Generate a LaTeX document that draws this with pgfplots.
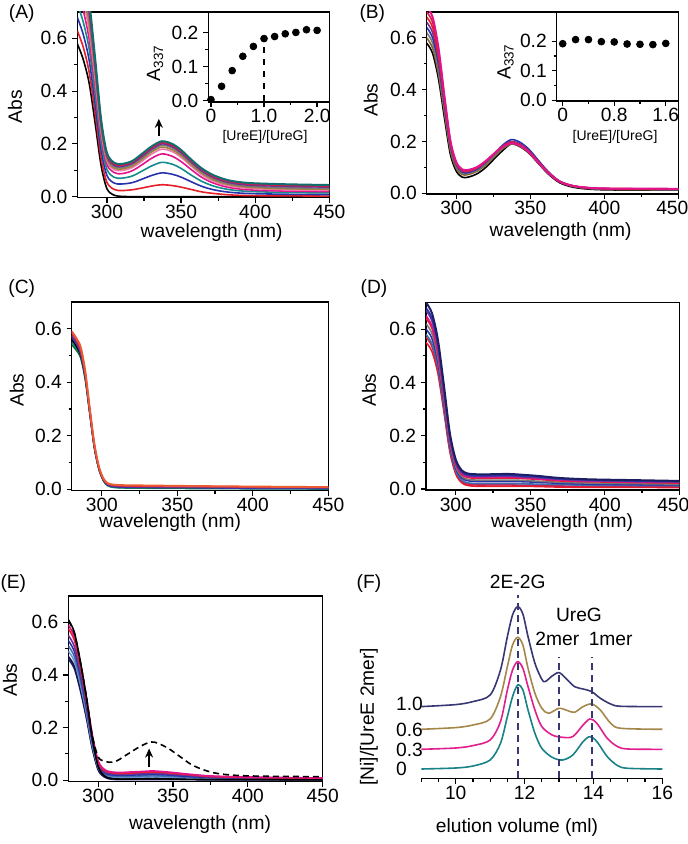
\documentclass[border=0pt]{standalone}
\usepackage{fontspec}
\setmainfont{Liberation Sans}
\usepackage{pgfplots}
\pgfplotsset{compat=1.18}
\usepackage{pgfplotstable}
\usetikzlibrary{arrows.meta}

\definecolor{cRed}{RGB}{230,30,40}
\definecolor{cBlue}{RGB}{40,50,170}
\definecolor{cTeal}{RGB}{20,140,140}
\definecolor{cMag}{RGB}{225,20,140}
\definecolor{cPink}{RGB}{240,120,170}
\definecolor{cOlive}{RGB}{160,130,60}
\definecolor{cGray}{RGB}{120,120,120}
\definecolor{cPurple}{RGB}{110,50,150}
\definecolor{cCrim}{RGB}{215,25,70}
\definecolor{cDTeal}{RGB}{15,110,110}
\definecolor{cNavy}{RGB}{30,30,100}
\definecolor{cSteel}{RGB}{70,110,170}
\definecolor{cLBlue}{RGB}{110,150,210}
\definecolor{cOrange}{RGB}{235,90,50}
\definecolor{cGreen}{RGB}{20,120,60}
\definecolor{cBrown}{RGB}{130,100,50}
\definecolor{fNavy}{RGB}{55,55,115}
\definecolor{fOlive}{RGB}{165,135,75}
\definecolor{fMag}{RGB}{225,30,140}
\definecolor{fTeal}{RGB}{25,130,135}

% (A) titration spectra
\pgfplotstableread{
x   k0   k1   k2   k3   k4   k5   k6   k7   k8   k9   k10
280 .580 .629 .680 .730 .775 .815 .849 .884 .905 .933 .955
284 .520 .567 .615 .662 .705 .741 .773 .804 .825 .849 .869
288 .430 .472 .517 .560 .598 .630 .657 .684 .701 .724 .741
292 .280 .316 .354 .389 .421 .446 .466 .485 .497 .514 .526
296 .120 .148 .179 .207 .230 .247 .259 .271 .279 .288 .296
300 .030 .054 .080 .103 .122 .135 .142 .149 .155 .160 .166
305 .005 .027 .051 .073 .091 .102 .108 .114 .118 .123 .128
310 .001 .023 .048 .070 .087 .099 .105 .110 .115 .119 .124
317 0 .026 .053 .078 .098 .110 .116 .122 .126 .131 .135
324 0 .033 .067 .098 .122 .136 .143 .149 .154 .159 .164
330 0 .040 .080 .116 .145 .161 .169 .175 .180 .185 .190
337 0 .045 .090 .130 .162 .180 .188 .195 .200 .205 .210
344 0 .042 .085 .123 .153 .171 .178 .185 .190 .195 .200
350 0 .036 .074 .107 .133 .149 .156 .162 .167 .172 .177
357 0 .027 .056 .081 .102 .115 .121 .127 .131 .136 .140
364 0 .018 .039 .058 .073 .083 .089 .094 .098 .103 .107
372 0 .012 .026 .040 .051 .058 .063 .068 .072 .076 .081
382 0 .007 .017 .027 .035 .041 .046 .050 .054 .058 .062
395 0 .004 .012 .020 .026 .032 .036 .040 .044 .048 .052
420 0 .003 .009 .016 .021 .026 .030 .034 .039 .043 .047
450 0 .002 .008 .014 .019 .024 .028 .032 .036 .040 .044
}\tA

% (B)
\pgfplotstableread{
x   bk   br   gy   bl   pu   rd   cr   pk
280 .58 .60 .62 .64 .66 .68 .70 .72
284 .54 .56 .58 .60 .62 .64 .66 .68
288 .44 .46 .48 .50 .51 .53 .55 .56
292 .29 .31 .33 .34 .35 .36 .37 .375
296 .15 .165 .178 .185 .19 .195 .20 .203
300 .085 .095 .104 .11 .112 .115 .118 .12
304 .062 .072 .078 .082 .085 .088 .090 .092
308 .062 .072 .077 .080 .083 .086 .088 .090
314 .075 .085 .09 .093 .095 .098 .100 .101
320 .10 .11 .115 .12 .121 .123 .124 .125
326 .135 .143 .148 .155 .153 .155 .155 .155
331 .163 .170 .175 .184 .180 .180 .179 .178
337 .190 .190 .195 .207 .200 .197 .195 .193
343 .180 .181 .186 .197 .190 .187 .185 .184
349 .155 .157 .160 .170 .164 .162 .160 .159
355 .118 .120 .122 .130 .126 .124 .122 .121
362 .075 .078 .079 .084 .082 .081 .080 .079
370 .040 .043 .044 .046 .045 .045 .045 .044
380 .022 .025 .026 .027 .027 .027 .027 .027
395 .014 .016 .017 .018 .018 .019 .019 .019
420 .012 .014 .015 .016 .016 .017 .017 .018
450 .012 .013 .014 .015 .015 .016 .016 .017
}\tB

% (C)
\pgfplotstableread{
x   te   gr   bk   bl   pu   rd   or
280 .55 .54 .56 .57 .575 .585 .59
283 .525 .52 .535 .545 .55 .56 .565
286 .495 .49 .50 .505 .51 .52 .53
289 .413 .41 .42 .42 .425 .43 .44
292 .285 .283 .29 .287 .29 .295 .30
295 .158 .157 .16 .16 .162 .165 .17
298 .077 .076 .08 .078 .08 .082 .085
301 .032 .033 .036 .034 .036 .038 .04
304 .013 .014 .018 .016 .018 .02 .022
308 .007 .008 .013 .010 .012 .015 .017
315 .005 .006 .011 .008 .010 .013 .015
330 .004 .005 .010 .007 .009 .012 .014
360 .003 .004 .009 .006 .008 .011 .012
400 .002 .003 .008 .004 .006 .009 .010
450 .001 .002 .007 .003 .005 .008 .008
}\tC

% (D)
\pgfplotstableread{
x   d1   d2   d3   d4   d5   d6   d7   d8   d9   d10
280 .550 .570 .580 .600 .620 .640 .650 .670 .680 .700
284 .516 .535 .545 .565 .584 .603 .612 .631 .641 .660
288 .433 .449 .458 .476 .493 .510 .518 .535 .543 .560
292 .290 .303 .311 .325 .338 .352 .358 .371 .377 .390
296 .140 .148 .155 .165 .174 .184 .189 .197 .201 .210
300 .056 .062 .068 .077 .083 .091 .095 .100 .104 .110
304 .023 .028 .033 .041 .047 .054 .057 .062 .065 .070
308 .013 .018 .023 .031 .036 .043 .046 .050 .053 .058
314 .010 .015 .020 .028 .033 .040 .043 .047 .050 .055
322 .010 .015 .020 .028 .033 .040 .043 .047 .050 .055
330 .010 .015 .020 .028 .033 .041 .044 .048 .051 .056
337 .010 .015 .020 .028 .033 .041 .044 .048 .051 .056
345 .010 .014 .019 .027 .032 .039 .042 .045 .048 .053
355 .009 .013 .018 .025 .029 .036 .038 .042 .045 .049
370 .007 .011 .016 .021 .025 .030 .033 .036 .038 .041
390 .006 .010 .014 .018 .022 .027 .029 .031 .034 .036
420 .006 .009 .013 .016 .020 .024 .026 .028 .030 .033
450 .005 .008 .012 .015 .018 .022 .024 .026 .028 .030
}\tD

% (E)
\pgfplotstableread{
x   e1   e2   e3   e4   e5   e6   e7   e8   e9
280 .460 .470 .490 .510 .530 .550 .575 .590 .610
284 .425 .434 .453 .471 .490 .509 .533 .546 .563
288 .342 .350 .366 .382 .398 .413 .433 .445 .453
292 .239 .246 .258 .271 .283 .295 .310 .319 .318
296 .121 .126 .134 .142 .150 .159 .168 .174 .161
300 .038 .042 .047 .053 .058 .063 .069 .073 .051
304 .012 .016 .020 .024 .029 .033 .037 .041 .017
308 .004 .008 .013 .017 .021 .025 .029 .032 .007
314 .002 .006 .010 .014 .018 .022 .026 .029 .004
322 .002 .006 .011 .015 .019 .023 .027 .031 .004
330 .002 .007 .012 .016 .021 .025 .030 .033 .005
336 .002 .007 .012 .017 .022 .026 .031 .035 .005
342 .002 .007 .012 .016 .021 .025 .030 .033 .005
350 .002 .006 .010 .014 .018 .022 .026 .029 .004
360 .002 .005 .008 .011 .014 .018 .021 .023 .003
375 .001 .003 .006 .008 .010 .012 .014 .016 .002
400 .001 .002 .004 .006 .007 .009 .010 .012 .002
450 .001 .002 .003 .004 .005 .006 .007 .008 .001
}\tE

\newcommand{\tfont}{\fontsize{9.6}{10}\selectfont}
\newcommand{\lab}{\fontsize{9.6}{11}\selectfont}

\pgfplotsset{
  base/.style={
    scale only axis, anchor=south west,
    tick align=outside, tick pos=left,
    major tick length=2.6pt, minor tick length=1.6pt,
    axis line style={line width=0.6pt},
    every tick/.style={line width=0.6pt, black},
    tick label style={font=\tfont},
    xticklabel style={inner sep=1pt},
    yticklabel style={inner sep=2.2pt},
  },
  spec/.style={
    base,
    xmin=280, xmax=450, ymax=0.7,
    xtick={300,350,400,450}, xticklabels={300,350,400,450},
    minor x tick num=1,
    ytick={0,0.2,0.4,0.6}, yticklabels={0.0,0.2,0.4,0.6},
    minor y tick num=1,
    every axis plot/.append style={line width=0.8pt, smooth, tension=0.5, no marks},
  },
  inset/.style={
    base,
    axis background/.style={fill=white},
    ytick={0,0.1,0.2}, yticklabels={0.0,0.1,0.2},
    minor y tick num=1, minor x tick num=1,
  },
}

\begin{document}
\begin{tikzpicture}
\path[use as bounding box] (0,0) rectangle (344pt,422pt);

% ---------- (A)
\begin{axis}[spec, at={(38.65pt,323.15pt)}, width=126pt, height=92.85pt, ymin=-0.004]
\addplot[black]   table[x=x,y=k0]  {\tA};
\addplot[cRed]    table[x=x,y=k1]  {\tA};
\addplot[cBlue]   table[x=x,y=k2]  {\tA};
\addplot[cTeal]   table[x=x,y=k3]  {\tA};
\addplot[cMag]    table[x=x,y=k4]  {\tA};
\addplot[cPink]   table[x=x,y=k5]  {\tA};
\addplot[cOlive]  table[x=x,y=k6]  {\tA};
\addplot[cGray]   table[x=x,y=k7]  {\tA};
\addplot[cPurple] table[x=x,y=k8]  {\tA};
\addplot[cCrim]   table[x=x,y=k9]  {\tA};
\addplot[cDTeal, line width=1pt] table[x=x,y=k10] {\tA};
\draw[-{Stealth[length=4.5pt,width=4pt]}, line width=0.8pt] (axis cs:335,0.228) -- (axis cs:335,0.295);
\end{axis}
\begin{axis}[inset, at={(104.15pt,371pt)}, width=60.5pt, height=45pt,
  xmin=-0.05, xmax=2.23, ymin=-0.004, ymax=0.26,
  xtick={0,1,2}, xticklabels={0,1.0,2.0}]
\addplot[only marks, mark=*, mark size=1.7pt, black] coordinates {
(0,0.003) (0.2,0.042) (0.4,0.088) (0.6,0.13) (0.8,0.159) (1.0,0.182)
(1.2,0.188) (1.4,0.196) (1.6,0.2) (1.8,0.208) (2.0,0.206)};
\draw[dashed, line width=0.7pt] (axis cs:1,0) -- (axis cs:1,0.182);
\end{axis}
\node[rotate=90, font=\lab] at (7.5pt,368.65pt) {Abs};
\node[font=\lab] at (105.85pt,305.5pt) {wavelength (nm)};
\node[font=\lab] at (10.85pt,415.35pt) {(A)};
\node[rotate=90, font=\tfont] at (77.5pt,390.5pt) {A\textsubscript{337}};
\node[font=\fontsize{7}{8}\selectfont] at (132.5pt,353.4pt) {[UreE]/[UreG]};

% ---------- (B)
\begin{axis}[spec, at={(213.35pt,325pt)}, width=125.8pt, height=91pt, ymin=-0.003,
  xticklabels={300,350,400,{\hspace*{-6pt}450}}]
\addplot[black]   table[x=x,y=bk] {\tB};
\addplot[cBrown]  table[x=x,y=br] {\tB};
\addplot[cGray]   table[x=x,y=gy] {\tB};
\addplot[cBlue]   table[x=x,y=bl] {\tB};
\addplot[cPurple] table[x=x,y=pu] {\tB};
\addplot[cRed]    table[x=x,y=rd] {\tB};
\addplot[cCrim]   table[x=x,y=cr] {\tB};
\addplot[cMag, line width=1pt] table[x=x,y=pk] {\tB};
\end{axis}
\begin{axis}[inset, at={(278.35pt,371.5pt)}, width=60.8pt, height=44.5pt,
  xmin=-0.093, xmax=1.795, ymin=-0.003, ymax=0.3,
  xtick={0,0.8,1.6}, xticklabels={0,0.8,1.6}]
\addplot[only marks, mark=*, mark size=1.7pt, black] coordinates {
(0,0.192) (0.2,0.206) (0.4,0.206) (0.6,0.199) (0.8,0.198) (1.0,0.191)
(1.2,0.19) (1.4,0.189) (1.6,0.193)};
\end{axis}
\node[rotate=90, font=\lab] at (185.35pt,372pt) {Abs};
\node[font=\lab] at (280.35pt,306pt) {wavelength (nm)};
\node[font=\lab] at (186.15pt,415.35pt) {(B)};
\node[rotate=90, font=\tfont] at (252.85pt,391.15pt) {A\textsubscript{337}};
\node[font=\fontsize{7}{8}\selectfont] at (307.5pt,353.4pt) {[UreE]/[UreG]};

% ---------- (C)
\begin{axis}[spec, at={(35.85pt,176.75pt)}, width=128.3pt, height=94.25pt, ymin=-0.0045]
\addplot[cTeal]   table[x=x,y=te] {\tC};
\addplot[cGreen]  table[x=x,y=gr] {\tC};
\addplot[black]   table[x=x,y=bk] {\tC};
\addplot[cBlue]   table[x=x,y=bl] {\tC};
\addplot[cPurple] table[x=x,y=pu] {\tC};
\addplot[cRed]    table[x=x,y=rd] {\tC};
\addplot[cOrange, line width=1pt] table[x=x,y=or] {\tC};
\end{axis}
\node[rotate=90, font=\lab] at (8.35pt,227pt) {Abs};
\node[font=\lab] at (85pt,160.5pt) {wavelength (nm)};
\node[font=\lab] at (10.85pt,277.85pt) {(C)};

% ---------- (D)
\begin{axis}[spec, at={(213pt,177pt)}, width=126.65pt, height=93.75pt, ymin=-0.004,
  xticklabels={300,350,400,{\hspace*{-6pt}450}}]
\addplot[cRed]    table[x=x,y=d1]  {\tD};
\addplot[cCrim]   table[x=x,y=d2]  {\tD};
\addplot[cSteel]  table[x=x,y=d3]  {\tD};
\addplot[cBlue]   table[x=x,y=d4]  {\tD};
\addplot[cGray]   table[x=x,y=d5]  {\tD};
\addplot[cRed]    table[x=x,y=d6]  {\tD};
\addplot[cMag]    table[x=x,y=d7]  {\tD};
\addplot[cPurple] table[x=x,y=d8]  {\tD};
\addplot[cBlue]   table[x=x,y=d9]  {\tD};
\addplot[cNavy, line width=1pt] table[x=x,y=d10] {\tD};
\end{axis}
\node[rotate=90, font=\lab] at (184.5pt,227pt) {Abs};
\node[font=\lab] at (281pt,160.5pt) {wavelength (nm)};
\node[font=\lab] at (187pt,277.85pt) {(D)};

% ---------- (E)
\begin{axis}[spec, at={(34.15pt,31.15pt)}, width=127.2pt, height=92.85pt, ymin=-0.006]
\addplot[cNavy]   table[x=x,y=e1] {\tE};
\addplot[cNavy!70!black] table[x=x,y=e2] {\tE};
\addplot[cLBlue]  table[x=x,y=e3] {\tE};
\addplot[cSteel]  table[x=x,y=e4] {\tE};
\addplot[cBlue]   table[x=x,y=e5] {\tE};
\addplot[cPurple] table[x=x,y=e6] {\tE};
\addplot[cRed]    table[x=x,y=e7] {\tE};
\addplot[cMag]    table[x=x,y=e8] {\tE};
\addplot[black]   table[x=x,y=e9] {\tE};
\addplot[black, dash pattern=on 3pt off 2pt, line width=0.8pt] coordinates {
(280,0.606) (284,0.56) (288,0.45) (292,0.32) (296,0.17) (300,0.088)
(304,0.072) (307,0.068) (312,0.072) (320,0.10) (328,0.128) (335,0.145)
(340,0.14) (347,0.12) (355,0.088) (362,0.06) (370,0.04) (380,0.025)
(400,0.016) (450,0.013)};
\draw[-{Stealth[length=4.5pt,width=4pt]}, line width=0.8pt] (axis cs:334,0.05) -- (axis cs:334,0.12);
\end{axis}
\node[rotate=90, font=\lab] at (5pt,82pt) {Abs};
\node[font=\lab] at (100pt,9.5pt) {wavelength (nm)};
\node[font=\lab] at (6.65pt,130.35pt) {(E)};

% ---------- (F)
\begin{axis}[base, at={(210.65pt,32.85pt)}, width=120.5pt, height=91.65pt,
  xmin=9, xmax=16, ymin=0, ymax=183.3,
  axis x line*=bottom, axis y line=none, clip=false,
  xtick={10,12,14,16}, xticklabels={10,12,14,16},
  minor xtick={9,9.5,...,16},
  every axis plot/.append style={line width=0.8pt, smooth, tension=0.5, no marks}]
\addplot[fTeal] coordinates {
(9,9.3) (10,10.3) (10.5,12.3) (11,18.3) (11.3,35) (11.5,61.7) (11.65,81.7)
(11.8,93.3) (11.95,88.3) (12.1,68.3) (12.3,45) (12.5,30) (12.8,21) (13.1,18.3)
(13.4,23.3) (13.7,36.7) (13.9,41.7) (14.1,36.7) (14.4,21.7) (14.7,12.7) (15,10) (16,9.3)};
\addplot[fMag] coordinates {
(9,29) (10,30.3) (10.5,32.7) (11,38.3) (11.3,56.7) (11.5,88.3) (11.65,108.3)
(11.8,116.7) (11.95,110) (12.1,91.7) (12.3,68.3) (12.5,51.7) (12.8,43.3) (13.1,41)
(13.4,41.7) (13.7,53.3) (13.9,59.3) (14.1,55) (14.4,40) (14.7,31.7) (15,29.3) (16,29)};
\addplot[fOlive] coordinates {
(9,49) (10,50.7) (10.5,53.3) (11,59.3) (11.3,81.7) (11.5,111.7) (11.65,133.3)
(11.8,141) (11.95,133.3) (12.1,110) (12.3,85) (12.5,70) (12.7,65) (13,70)
(13.25,67.7) (13.45,66) (13.7,71.7) (13.95,74.3) (14.2,68.3) (14.5,55) (14.8,50) (16,49)};
\addplot[fNavy] coordinates {
(9,71.7) (10,73.7) (10.5,76.7) (11,83.3) (11.3,108.3) (11.5,141.7) (11.65,163.3)
(11.8,171.7) (11.95,164.3) (12.1,141.7) (12.3,115) (12.5,99) (12.6,96.7) (12.8,102.3)
(13,105.7) (13.2,100) (13.45,91.7) (13.7,89.3) (13.95,86.7) (14.2,80) (14.5,74.3) (14.8,72) (16,71.7)};
\draw[fNavy, dash pattern=on 3.5pt off 2.5pt, line width=0.8pt] (axis cs:11.8,0) -- (axis cs:11.8,183.3);
\draw[fNavy, dash pattern=on 3.5pt off 2.5pt, line width=0.8pt] (axis cs:13.0,0) -- (axis cs:13.0,121.7);
\draw[fNavy, dash pattern=on 3.5pt off 2.5pt, line width=0.8pt] (axis cs:13.95,0) -- (axis cs:13.95,121.7);
\node[font=\lab] at (axis cs:11.8,196.6) {2E-2G};
\node[font=\lab] at (axis cs:13.58,163.3) {UreG};
\node[font=\lab] at (axis cs:12.95,139) {2mer};
\node[font=\lab] at (axis cs:14.5,139) {1mer};
\end{axis}
\node[anchor=west, font=\lab] at (194.5pt,70pt) {1.0};
\node[anchor=west, font=\lab] at (194.5pt,57pt) {0.6};
\node[anchor=west, font=\lab] at (194.5pt,47pt) {0.3};
\node[anchor=west, font=\lab] at (194.5pt,37.35pt) {0};
\node[rotate=90, font=\lab] at (184.5pt,63.65pt) {[Ni]/[UreE 2mer]};
\node[font=\lab] at (258.5pt,8pt) {elution volume (ml)};
\node[font=\lab] at (184.5pt,130.35pt) {(F)};
\end{tikzpicture}
\end{document}
